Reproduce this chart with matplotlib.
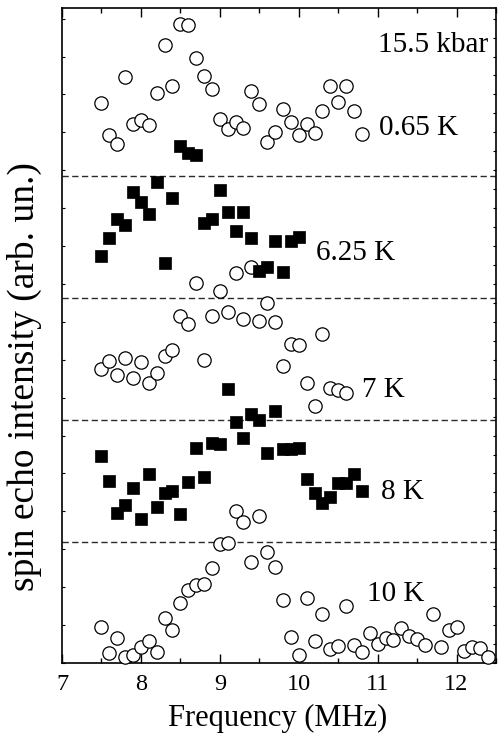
import matplotlib
matplotlib.use("Agg")
import matplotlib.pyplot as plt
from matplotlib.ticker import MultipleLocator, NullFormatter

plt.rcParams['font.family'] = ['Liberation Serif', 'DejaVu Serif']

# frequency grid (MHz)
freq = [7.5, 7.6, 7.7, 7.8, 7.9, 8.0, 8.1, 8.2, 8.3, 8.4,
        8.5, 8.6, 8.7, 8.8, 8.9, 9.0, 9.1, 9.2, 9.3, 9.4,
        9.5, 9.6, 9.7, 9.8, 9.9, 10.0, 10.1, 10.2, 10.3, 10.4,
        10.5, 10.6, 10.7, 10.8, 10.9, 11.0, 11.1, 11.2, 11.3, 11.4,
        11.5, 11.6, 11.7, 11.8, 11.9, 12.0, 12.1, 12.2, 12.3, 12.4]

# spin echo intensity (stacked, arb. units)
int_065 = [14.78, 13.93, 13.69, 15.45, 14.22, 14.33, 14.19, 15.03, 16.31, 15.23,
           16.85, 16.82, 15.96, 15.49, 15.15, 14.36, 14.08, 14.28, 14.12, 15.10,
           14.75, 13.75, 14.02, 14.62, 14.28, 13.93, 14.22, 13.99, 14.57, 15.21,
           14.81, 15.21, 14.57, 13.95]
int_625 = [10.74, 11.21, 11.71, 11.56, 12.42, 12.16, 11.84, 12.68, 10.55, 12.28,
           13.65, 13.46, 13.40, 11.60, 11.71, 12.48, 11.89, 11.40, 11.89, 11.21,
           10.34, 10.44, 11.14, 10.32, 11.14, 11.25]
int_7 = [7.75, 7.97, 7.60, 8.04, 7.51, 7.93, 7.38, 7.64, 8.10, 8.26,
         9.16, 8.94, 10.02, 7.99, 9.16, 9.82, 9.27, 10.28, 9.07, 10.44,
         9.02, 9.51, 8.99, 7.84, 8.42, 8.39, 7.40, 6.78, 8.68, 7.25,
         7.20, 7.13]
int_8 = [5.47, 4.80, 3.95, 4.17, 4.61, 3.80, 4.98, 4.12, 4.49, 4.55,
         3.92, 4.77, 5.68, 4.90, 5.81, 5.78, 7.23, 6.36, 5.93, 6.58,
         6.41, 5.53, 6.65, 5.64, 5.64, 5.68, 4.85, 4.49, 4.21, 4.39,
         4.76, 4.76, 4.98, 4.55]
int_10 = [0.94, 0.27, 0.65, 0.17, 0.21, 0.43, 0.59, 0.28, 1.18, 0.87,
          1.59, 1.93, 2.06, 2.08, 2.50, 3.14, 3.17, 4.01, 3.73, 2.66,
          3.89, 2.93, 2.53, 1.66, 0.68, 0.21, 1.72, 0.59, 1.28, 0.36,
          0.45, 1.50, 0.47, 0.30, 0.78, 0.49, 0.67, 0.61, 0.92, 0.71,
          0.63, 0.47, 1.29, 0.41, 0.87, 0.96, 0.32, 0.41, 0.39, 0.17]

separators = [3.19, 6.42, 9.63, 12.85]

labels = ["15.5 kbar", "0.65 K", "6.25 K", "7 K", "8 K", "10 K"]
label_x = [11.0, 11.02, 10.22, 10.8, 11.04, 10.87]
label_y = [16.13, 13.93, 10.63, 7.02, 4.33, 1.64]

fig = plt.figure(figsize=(4.98, 7.38), dpi=100)
ax = fig.add_axes([62 / 498, 75 / 738, 434 / 498, 655 / 738])

for y in separators:
    ax.axhline(y, color='#2a2a2a', lw=1.0, ls=(0, (4.5, 2.5)), zorder=1)

circle = dict(ls='none', marker='o', ms=9.6, mfc='white', mec='black',
              mew=0.9, clip_on=False, zorder=3)
square = dict(ls='none', marker='s', ms=9.2, mfc='black', mec='black',
              mew=0.5, clip_on=False, zorder=4)

ax.plot(freq[:len(int_065)], int_065, **circle)
ax.plot(freq[:len(int_7)], int_7, **circle)
ax.plot(freq[:len(int_10)], int_10, **circle)
ax.plot(freq[:len(int_625)], int_625, **square)
ax.plot(freq[:len(int_8)], int_8, **square)

for t, x, y in zip(labels, label_x, label_y):
    ax.text(x, y, t, fontsize=21, va='baseline', ha='left')

ax.set_xlim(7, 12.5)
ax.set_ylim(0, 17.28)

ax.xaxis.set_major_locator(MultipleLocator(1))
ax.xaxis.set_minor_locator(MultipleLocator(0.5))
ax.yaxis.set_major_locator(MultipleLocator(1))
ax.yaxis.set_minor_locator(MultipleLocator(0.5))
ax.yaxis.set_major_formatter(NullFormatter())

ax.tick_params(axis='x', which='major', direction='in', top=True,
               length=6.5, width=1.0, labelsize=17.5, pad=8)
ax.tick_params(axis='x', which='minor', direction='in', top=True,
               length=3.6, width=1.0)
ax.tick_params(axis='y', which='major', direction='in', left=True, right=True,
               length=2.2, width=0.8)
ax.tick_params(axis='y', which='minor', direction='in', left=False, right=True,
               length=2.2, width=0.8)

for s in ax.spines.values():
    s.set_linewidth(1.2)

ax.set_xlabel("Frequency (MHz)", fontsize=22)
ax.xaxis.set_label_coords(0.497, -0.063)
ax.set_ylabel("spin echo intensity (arb. un.)", fontsize=27)
ax.yaxis.set_label_coords(-0.045, 0.438)

fig.savefig("out.png", dpi=100)
